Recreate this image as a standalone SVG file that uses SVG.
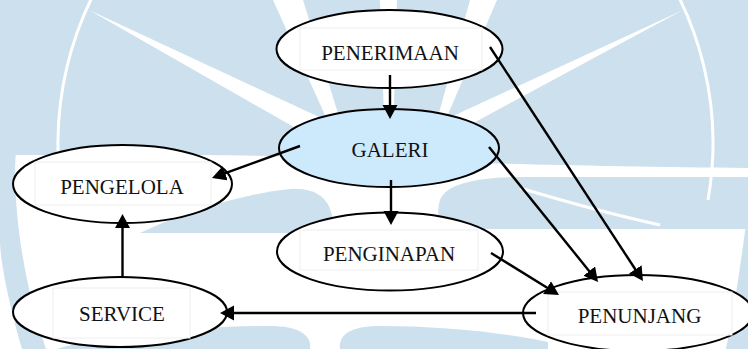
<svg xmlns="http://www.w3.org/2000/svg" width="748" height="349" viewBox="0 0 748 349">
  <defs>
    <style>
      .wm { fill: #cde0ee; }
      .wmw { fill: #ffffff; }
      .node ellipse { fill: #ffffff; stroke: #000000; stroke-width: 2; }
      .node .box { fill: #ffffff; stroke: #eeeeee; stroke-width: 1; }
      .node text { font-family: "Liberation Serif", "Times New Roman", serif; font-size: 21px; fill: #111111; text-anchor: middle; }
      #galeri ellipse { fill: #cdeafc; }
      .edge { stroke: #000000; stroke-width: 2.4; fill: none; marker-end: url(#arrow); }
    </style>
    <marker id="arrow" markerUnits="userSpaceOnUse" markerWidth="15" markerHeight="16" refX="2" refY="7.5" orient="auto">
      <path d="M0,0 L14,7.5 L0,15 Z" fill="#000000"/>
    </marker>
  </defs>

  <!-- faint emblem in the background -->
  <g id="emblem">
    <rect width="748" height="349" fill="#ffffff"/>
    <path class="wm" d="M0,0 H748 V168 C650,167 550,165 480,163 C400,160 300,156 200,155 L0,155 Z"/>
    <path class="wm" d="M0,150 H16 C12,200 22,280 46,349 L22,349 C8,300 0,260 0,240 Z"/>
    <path class="wm" d="M748,210 C741,260 736,300 726,349 L748,349 Z"/>
    <path class="wm" d="M748,177 L520,177 C480,177 446,183 440,200 C436,214 439,224 445,229 L748,229 Z"/>
    <path class="wm" d="M140,233 C180,214 240,194 290,189 C322,187 336,205 332,233 Z"/>
    <path class="wm" d="M57,349 C100,335 200,326 270,326 C300,326 312,336 310,349 Z"/>
    <path class="wm" d="M340,349 C338,334 352,326 380,326 C440,326 500,332 548,342 L548,349 Z"/>
    <path d="M520,188 C560,200 610,214 660,225" fill="none" stroke="#ffffff" stroke-width="3"/>
    <!-- rays -->
    <polygon class="wmw" points="89,10 390,150 390,182"/>
    <polygon class="wmw" points="683,10 390,145 390,168"/>
    <polygon class="wmw" points="273,0 303,0 357,175 352,175"/>
    <polygon class="wmw" points="380,0 397,0 392,175 386,175"/>
    <polygon class="wmw" points="470,0 497,0 422,175"/>
    <!-- outer ring -->
    <path d="M63,200 A327.5,327.5 0 1 1 708,200" fill="none" stroke="#ffffff" stroke-width="3"/>
  </g>

  <g id="nodes">
    <g id="penerimaan" class="node">
      <ellipse cx="389.5" cy="49" rx="113" ry="39"/>
      <rect class="box" x="300" y="28" width="182" height="42"/>
      <text x="390" y="60">PENERIMAAN</text>
    </g>
    <g id="galeri" class="node">
      <ellipse cx="389" cy="148" rx="110" ry="39"/>
      <text x="390" y="157">GALERI</text>
    </g>
    <g id="pengelola" class="node">
      <ellipse cx="122.5" cy="184" rx="109.5" ry="39"/>
      <rect class="box" x="35" y="162" width="176" height="43"/>
      <text x="122" y="194">PENGELOLA</text>
    </g>
    <g id="penginapan" class="node">
      <ellipse cx="390" cy="251.5" rx="113" ry="39"/>
      <rect class="box" x="300" y="230" width="178" height="40"/>
      <text x="389" y="261">PENGINAPAN</text>
    </g>
    <g id="service" class="node">
      <ellipse cx="120" cy="312" rx="107" ry="35"/>
      <rect class="box" x="53" y="288" width="137" height="50"/>
      <text x="122" y="321">SERVICE</text>
    </g>
    <g id="penunjang" class="node">
      <ellipse cx="638" cy="313" rx="115" ry="38"/>
      <rect class="box" x="548" y="292" width="184" height="43"/>
      <text x="639.5" y="323">PENUNJANG</text>
    </g>
  </g>

  <g id="connectors">
    <line class="edge" x1="390" y1="75" x2="390" y2="107"/>
    <line class="edge" x1="300" y1="146" x2="223.3" y2="173.9"/>
    <line class="edge" x1="391" y1="180" x2="391" y2="213"/>
    <line class="edge" x1="489" y1="147" x2="590.5" y2="272.7"/>
    <line class="edge" x1="490" y1="47" x2="636.4" y2="271"/>
    <line class="edge" x1="491" y1="253" x2="548.8" y2="288.7"/>
    <line class="edge" x1="536" y1="313" x2="232" y2="313"/>
    <line class="edge" x1="122.5" y1="277" x2="122.5" y2="226"/>
  </g>
</svg>
